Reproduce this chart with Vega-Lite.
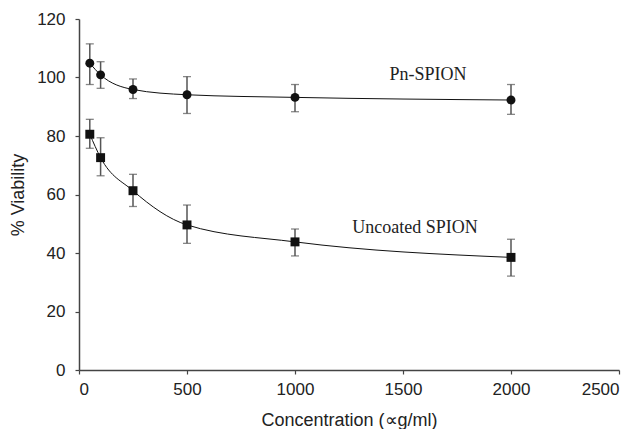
{
  "$schema": "https://vega.github.io/schema/vega-lite/v6.json",
  "width": 540,
  "height": 351,
  "autosize": "none",
  "padding": {"left": 79, "top": 19, "right": 21, "bottom": 59},
  "background": "white",
  "config": {
    "view": {"stroke": null},
    "scale": {"continuousPadding": 0},
    "axis": {
      "grid": false,
      "domainColor": "#444",
      "domainWidth": 1.5,
      "tickColor": "#444",
      "tickWidth": 1.2,
      "tickSize": 4,
      "labelFont": "Liberation Sans",
      "labelFontSize": 17,
      "labelColor": "#222",
      "titleFont": "Liberation Sans",
      "titleFontSize": 18,
      "titleFontWeight": "normal",
      "titleColor": "#222"
    }
  },
  "datasets": {
    "pts": [
      {"series": "Pn-SPION", "conc": 50, "v": 104.9, "lo": 97.6, "hi": 111.5},
      {"series": "Pn-SPION", "conc": 100, "v": 100.9, "lo": 96.3, "hi": 105.4},
      {"series": "Pn-SPION", "conc": 250, "v": 95.9, "lo": 92.8, "hi": 99.5},
      {"series": "Pn-SPION", "conc": 500, "v": 94.1, "lo": 87.7, "hi": 100.3},
      {"series": "Pn-SPION", "conc": 1000, "v": 93.2, "lo": 88.3, "hi": 97.6},
      {"series": "Pn-SPION", "conc": 2000, "v": 92.3, "lo": 87.4, "hi": 97.6},
      {"series": "Uncoated SPION", "conc": 50, "v": 80.6, "lo": 75.8, "hi": 85.7},
      {"series": "Uncoated SPION", "conc": 100, "v": 72.6, "lo": 66.4, "hi": 79.4},
      {"series": "Uncoated SPION", "conc": 250, "v": 61.3, "lo": 55.9, "hi": 66.9},
      {"series": "Uncoated SPION", "conc": 500, "v": 49.6, "lo": 43.3, "hi": 56.4},
      {"series": "Uncoated SPION", "conc": 1000, "v": 43.8, "lo": 39.0, "hi": 48.2},
      {"series": "Uncoated SPION", "conc": 2000, "v": 38.5, "lo": 32.1, "hi": 44.7}
    ],
    "labels": [
      {"text": "Pn-SPION", "x": 1616, "y": 100.9},
      {"text": "Uncoated SPION", "x": 1556, "y": 48.4}
    ]
  },
  "layer": [
    {
      "data": {"name": "pts"},
      "mark": {"type": "rule", "color": "#555", "strokeWidth": 1.5},
      "encoding": {
        "x": {"field": "conc", "type": "quantitative", "scale": {"domain": [0, 2500], "padding": 0, "nice": false},
          "axis": {"values": [0, 500, 1000, 1500, 2000, 2500], "format": "d", "labelPadding": 7, "titlePadding": 14},
          "title": "Concentration (∝g/ml)"},
        "y": {"field": "lo", "type": "quantitative", "scale": {"domain": [0, 120], "padding": 0, "nice": false},
          "axis": {"values": [0, 20, 40, 60, 80, 100, 120], "format": "d", "labelPadding": 10, "titlePadding": 9},
          "title": "% Viability"},
        "y2": {"field": "hi"}
      }
    },
    {
      "data": {"name": "pts"},
      "mark": {"type": "tick", "orient": "horizontal", "color": "#555", "size": 8, "thickness": 1.3},
      "encoding": {
        "x": {"field": "conc", "type": "quantitative"},
        "y": {"field": "lo", "type": "quantitative"}
      }
    },
    {
      "data": {"name": "pts"},
      "mark": {"type": "tick", "orient": "horizontal", "color": "#555", "size": 8, "thickness": 1.3},
      "encoding": {
        "x": {"field": "conc", "type": "quantitative"},
        "y": {"field": "hi", "type": "quantitative"}
      }
    },
    {
      "data": {"name": "pts"},
      "mark": {"type": "line", "interpolate": "monotone", "color": "#111", "strokeWidth": 1},
      "encoding": {
        "x": {"field": "conc", "type": "quantitative"},
        "y": {"field": "v", "type": "quantitative"},
        "detail": {"field": "series"}
      }
    },
    {
      "data": {"name": "pts"},
      "mark": {"type": "point", "filled": true, "opacity": 1, "color": "#111"},
      "encoding": {
        "x": {"field": "conc", "type": "quantitative"},
        "y": {"field": "v", "type": "quantitative"},
        "shape": {"field": "series", "type": "nominal", "scale": {"domain": ["Pn-SPION", "Uncoated SPION"], "range": ["circle", "square"]}, "legend": null},
        "size": {"value": 80}
      }
    },
    {
      "data": {"name": "labels"},
      "mark": {"type": "text", "font": "Liberation Serif", "fontSize": 18, "color": "#222", "align": "center", "baseline": "middle"},
      "encoding": {
        "x": {"field": "x", "type": "quantitative"},
        "y": {"field": "y", "type": "quantitative"},
        "text": {"field": "text"}
      }
    }
  ]
}
